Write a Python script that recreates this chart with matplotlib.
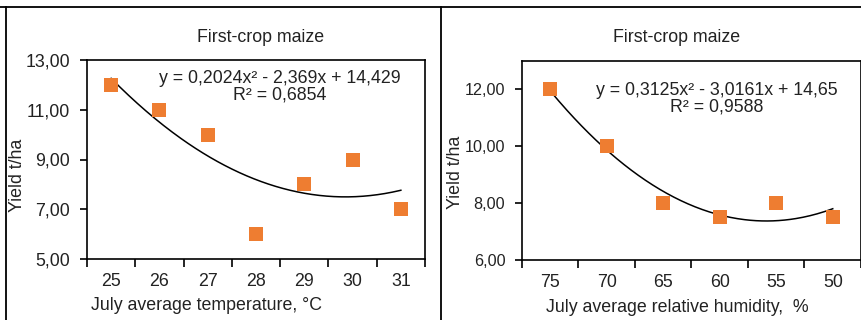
import matplotlib.pyplot as plt
import numpy as np
from matplotlib.lines import Line2D

plt.rcParams['font.family'] = ['Liberation Sans', 'DejaVu Sans']

# data
temp_labels = ['25', '26', '27', '28', '29', '30', '31']
temp_yield = [12, 11, 10, 6, 8, 9, 7]
temp_coef = [0.2024, -2.369, 14.429]
temp_eq = 'y = 0,2024x² - 2,369x + 14,429\nR² = 0,6854'

hum_labels = ['75', '70', '65', '60', '55', '50']
hum_yield = [12, 10, 8, 7.5, 8, 7.5]
hum_coef = [0.3125, -3.0161, 14.65]
hum_eq = 'y = 0,3125x² - 3,0161x + 14,65\nR² = 0,9588'

orange = '#EE7D31'
txt = '#222222'
fs = 12.8

fig = plt.figure(figsize=(8.62, 3.2), dpi=100)
W, H = 862.0, 320.0


def fx(px):
    return px / W


def fy(py):
    return 1 - py / H


def panel(rect, labels, values, coef, ylim, yticks, eq, eq_xy, ysize):
    ax = fig.add_axes(rect)
    n = len(labels)
    x = np.arange(1, n + 1)
    ax.scatter(x, values, marker='s', s=95, color=orange, zorder=3, linewidths=0)
    xs = np.linspace(1, n, 200)
    ax.plot(xs, np.polyval(coef, xs), color='black', lw=1.1, zorder=2)
    ax.set_xlim(0.5, n + 0.5)
    ax.set_ylim(*ylim)
    ax.set_yticks(yticks)
    ax.yaxis.set_major_formatter(plt.FuncFormatter(lambda v, p: ('%.2f' % v).replace('.', ',')))
    # category ticks between the points, labels under the points
    ax.set_xticks(np.arange(0.5, n + 1.5, 1.0))
    ax.set_xticklabels([])
    ax.set_xticks(x, minor=True)
    ax.set_xticklabels(labels, minor=True)
    ax.tick_params(axis='x', which='major', length=6, width=1.2, direction='out')
    ax.tick_params(axis='x', which='minor', length=0, pad=10, labelsize=fs, labelcolor=txt)
    ax.tick_params(axis='y', length=5, width=1.2, direction='out', pad=7, labelsize=ysize, labelcolor=txt)
    for sp in ax.spines.values():
        sp.set_linewidth(1.2)
    ax.text(eq_xy[0], eq_xy[1], eq, transform=fig.transFigure, ha='center', va='top',
            fontsize=fs, linespacing=1.0, color=txt)
    return ax


ax1 = panel([fx(87), fy(259), fx(425) - fx(87), fy(60) - fy(259)],
            temp_labels, temp_yield, temp_coef, (5, 13), [5, 7, 9, 11, 13],
            temp_eq, (fx(280), fy(70)), fs)
ax2 = panel([fx(522), fy(260), fx(861) - fx(522), fy(61) - fy(260)],
            hum_labels, hum_yield, hum_coef, (6, 13), [6, 8, 10, 12],
            hum_eq, (fx(717), fy(82)), 11.6)

# titles and axis labels
fig.text(fx(261), fy(37), 'First-crop maize', ha='center', va='center', fontsize=fs, color=txt)
fig.text(fx(677), fy(37), 'First-crop maize', ha='center', va='center', fontsize=fs, color=txt)
fig.text(fx(207), fy(305), 'July average temperature, °C', ha='center', va='center', fontsize=fs, color=txt)
fig.text(fx(677), fy(307), 'July average relative humidity,  %', ha='center', va='center', fontsize=fs, color=txt)
fig.text(fx(18), fy(175), 'Yield t/ha', rotation=90, ha='center', va='center', fontsize=fs, color=txt)
fig.text(fx(455), fy(172), 'Yield t/ha', rotation=90, ha='center', va='center', fontsize=fs, color=txt)

# outer frame lines
fig.add_artist(Line2D([0, 1], [fy(6.5), fy(6.5)], transform=fig.transFigure, color='black', lw=1.3))
fig.add_artist(Line2D([fx(6), fx(6)], [0, fy(6.5)], transform=fig.transFigure, color='black', lw=1.3))
fig.add_artist(Line2D([fx(441.5), fx(441.5)], [0, fy(6.5)], transform=fig.transFigure, color='black', lw=1.3))

fig.savefig('out.png', dpi=100)
